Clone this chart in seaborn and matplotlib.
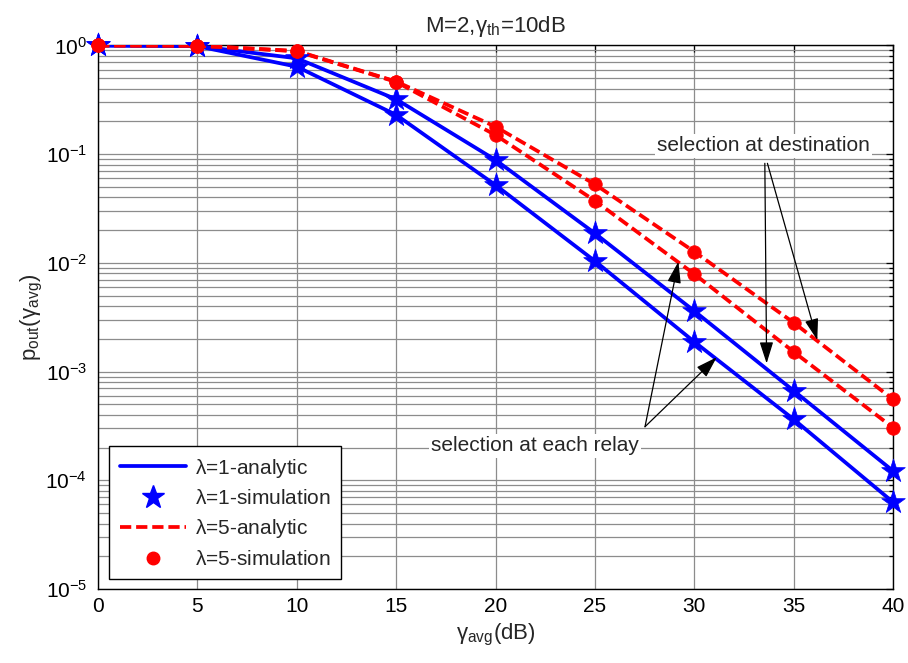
import numpy as np
import pandas as pd
import matplotlib
matplotlib.use("Agg")
import matplotlib.pyplot as plt
from matplotlib.lines import Line2D
from matplotlib.ticker import LogLocator, FixedLocator, NullFormatter
import seaborn as sns

# Average SNR (dB)
snr_db = [0, 5, 10, 15, 20, 25, 30, 35, 40]

# Outage probability, lambda = 1
lam1_relay = [1.0, 0.985, 0.638, 0.23, 0.052, 0.0104, 0.00188, 0.000364, 0.0000630]
lam1_dest = [1.0, 0.99, 0.762, 0.32, 0.0885, 0.0187, 0.00361, 0.000667, 0.000122]

# Outage probability, lambda = 5
lam5_relay = [1.0, 0.995, 0.885, 0.462, 0.15, 0.0373, 0.0079, 0.00152, 0.000305]
lam5_dest = [1.0, 0.995, 0.89, 0.466, 0.179, 0.0528, 0.01268, 0.00282, 0.000556]

title_text = r"M=2,$\gamma_{th}$=10dB"
xlabel_text = r"$\gamma_{avg}$(dB)"
ylabel_text = r"$p_{out}(\gamma_{avg})$"
legend_labels = [r"$\lambda$=1-analytic", r"$\lambda$=1-simulation",
                 r"$\lambda$=5-analytic", r"$\lambda$=5-simulation"]

sns.set_theme(style="white")
plt.rcParams["font.family"] = ["Liberation Sans", "DejaVu Sans"]
plt.rcParams["mathtext.fontset"] = "custom"
plt.rcParams["mathtext.rm"] = "Liberation Sans"
plt.rcParams["mathtext.it"] = "Liberation Sans"
plt.rcParams["mathtext.bf"] = "Liberation Sans:bold"
plt.rcParams["mathtext.default"] = "regular"

FS = 15
BLUE = "#0000ff"
RED = "#ff0000"

df = pd.concat([
    pd.DataFrame({"snr": snr_db, "p": lam1_relay, "curve": "l1_relay", "lam": 1}),
    pd.DataFrame({"snr": snr_db, "p": lam1_dest, "curve": "l1_dest", "lam": 1}),
    pd.DataFrame({"snr": snr_db, "p": lam5_relay, "curve": "l5_relay", "lam": 5}),
    pd.DataFrame({"snr": snr_db, "p": lam5_dest, "curve": "l5_dest", "lam": 5}),
], ignore_index=True)

fig = plt.figure(figsize=(9.08, 6.63), dpi=100)
ax = fig.add_axes([0.108, 0.1116, 0.8755, 0.8198])
ax.set_yscale("log")
ax.set_axisbelow(True)

lw = 2.7
for curve, color, dash in [("l1_relay", BLUE, None), ("l1_dest", BLUE, None),
                           ("l5_relay", RED, (3, 1.3)), ("l5_dest", RED, (3, 1.3))]:
    sub = df[df["curve"] == curve]
    sns.lineplot(data=sub, x="snr", y="p", ax=ax, color=color, lw=lw,
                 legend=False, zorder=3)
    if dash is not None:
        ax.lines[-1].set_dashes(dash)

sim1 = df[df["lam"] == 1]
sim5 = df[df["lam"] == 5]
sns.scatterplot(data=sim1, x="snr", y="p", ax=ax, marker="*", s=320,
                color=BLUE, edgecolor=BLUE, linewidth=0.5, legend=False,
                zorder=4, clip_on=False)
sns.scatterplot(data=sim5, x="snr", y="p", ax=ax, marker="o", s=95,
                color=RED, edgecolor=RED, linewidth=0.5, legend=False,
                zorder=5, clip_on=False)

ax.set_xlim(0, 40)
ax.set_ylim(1e-5, 1)
ax.xaxis.set_major_locator(FixedLocator(snr_db))
ax.yaxis.set_major_locator(LogLocator(base=10, numticks=10))
ax.yaxis.set_minor_locator(LogLocator(base=10, subs=np.arange(2, 10), numticks=50))
ax.yaxis.set_minor_formatter(NullFormatter())

ax.grid(True, which="major", axis="both", color="#8c8c8c", lw=0.9)
ax.grid(True, which="minor", axis="y", color="#8c8c8c", lw=0.9)

ax.tick_params(axis="both", which="both", direction="in", top=True, right=True,
               labelsize=FS, colors="black")
ax.tick_params(axis="both", which="major", length=5, width=0.9, pad=6)
ax.tick_params(axis="y", which="minor", length=3, width=0.9)
ax.tick_params(axis="y", which="major", pad=8)
for s in ax.spines.values():
    s.set_color("black")
    s.set_linewidth(1.0)

ax.set_title(title_text, fontsize=FS + 1, pad=10)
ax.set_xlabel(xlabel_text, fontsize=FS + 1, labelpad=4)
ax.set_ylabel(ylabel_text, fontsize=FS + 1, labelpad=0)

# annotations
arrow_kw = dict(arrowstyle="-|>,head_length=1.1,head_width=0.35", color="black",
                lw=0.9, shrinkA=0, shrinkB=0)
ax.text(33.46, 0.119, "selection at destination", fontsize=FS, ha="center",
        va="center", zorder=6,
        bbox=dict(facecolor="white", edgecolor="none", pad=1.5))
ax.annotate("", xy=(33.64, 1.19e-3), xytext=(33.55, 0.0824),
            arrowprops=arrow_kw, zorder=6)
ax.annotate("", xy=(36.19, 1.95e-3), xytext=(33.68, 0.0824),
            arrowprops=arrow_kw, zorder=6)

ax.text(21.99, 2.07e-4, "selection at each relay", fontsize=FS, ha="center",
        va="center", zorder=6,
        bbox=dict(facecolor="white", edgecolor="none", pad=1.5))
ax.annotate("", xy=(29.2, 0.01026), xytext=(27.52, 3.11e-4),
            arrowprops=arrow_kw, zorder=6)
ax.annotate("", xy=(31.13, 1.355e-3), xytext=(27.52, 3.11e-4),
            arrowprops=arrow_kw, zorder=6)

handles = [
    Line2D([], [], color=BLUE, lw=lw),
    Line2D([], [], color=BLUE, lw=0, marker="*", markersize=17),
    Line2D([], [], color=RED, lw=lw, dashes=(3, 1.3)),
    Line2D([], [], color=RED, lw=0, marker="o", markersize=9),
]
leg = ax.legend(handles, legend_labels, loc="lower left",
                bbox_to_anchor=(0.014, 0.018), borderaxespad=0,
                fontsize=FS, handlelength=3.2, handletextpad=0.4,
                labelspacing=0.45, borderpad=0.5, numpoints=1,
                fancybox=False, framealpha=1, edgecolor="black")
leg.get_frame().set_linewidth(1.0)
leg.set_zorder(10)

fig.savefig("out.png", dpi=100, facecolor="white")
